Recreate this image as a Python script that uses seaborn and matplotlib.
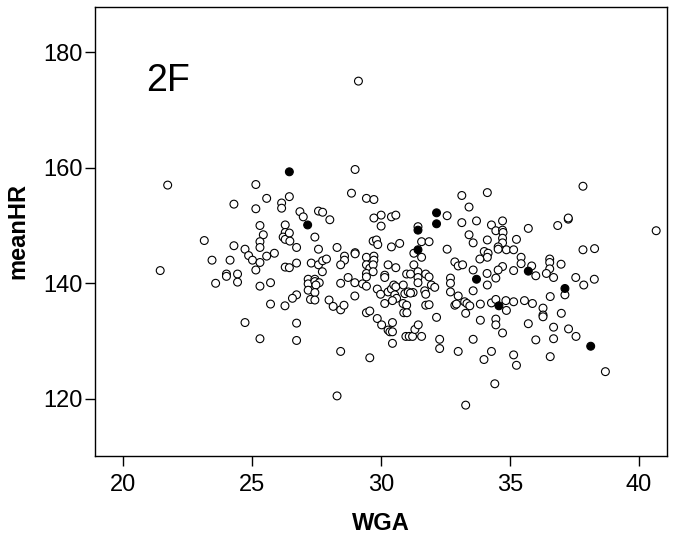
import pandas as pd
import matplotlib.pyplot as plt
import seaborn as sns

# open circles
wga_open = [
    21.72, 25.14, 25.56, 24.29, 25.14, 25.30, 25.43, 23.14, 25.30, 25.30, 24.29, 24.72, 24.86, 25.01,
    25.56, 25.86, 23.44, 24.14, 25.30, 21.43, 25.14, 24.00, 24.00, 24.43,
    23.58, 24.43, 25.30, 25.71, 25.71, 24.72, 25.30,
    28.99, 26.44, 26.14, 26.14, 28.85, 29.43, 29.72, 26.85, 26.98, 27.57, 27.73, 28.01, 30.00, 29.72,
    30.40, 30.57, 30.00, 26.28, 26.28, 26.20, 26.28, 26.44, 26.46, 27.43, 26.72, 27.57, 28.29, 29.69,
    29.82, 29.87, 30.40, 26.72, 27.29, 27.57, 27.73, 27.88, 28.58, 28.58, 28.43, 28.99, 28.99, 29.43,
    29.72, 29.72, 29.43, 29.56, 29.69, 30.27, 30.57, 26.28, 26.44, 29.43, 29.69, 30.14, 30.14, 28.72,
    27.17, 27.17, 27.43, 27.43, 27.60, 27.47, 27.72, 27.17, 27.43, 27.26, 27.43, 26.72, 26.56, 26.27,
    26.72, 26.72, 27.98, 28.14, 28.43, 28.56, 28.43, 28.98, 29.28, 29.43, 29.43, 28.98, 29.43, 29.56,
    29.85, 29.98, 30.14, 30.27, 30.40, 30.49, 30.57, 30.53, 30.60, 30.44, 29.85, 30.02, 30.27, 30.34,
    30.44, 30.44, 30.44, 28.43, 29.56, 28.29,
    33.13, 34.12, 33.41, 32.56, 33.13, 33.70, 34.71, 34.28, 34.45, 34.71, 34.73, 35.25, 31.43, 33.41,
    33.57, 31.57, 31.86, 30.72, 34.12, 34.71, 34.71, 34.54, 34.54, 34.86, 35.14, 34.00, 34.15, 34.12,
    33.83, 32.56, 31.27, 31.57, 32.86, 32.99, 33.16, 33.57, 34.11, 34.71, 34.54, 35.14, 31.27, 30.99,
    31.14, 31.43, 31.73, 31.43, 31.86, 32.69,
    31.43, 30.86, 30.92, 31.24, 31.05, 31.14, 30.85, 30.99, 30.88, 31.00, 31.69, 31.73, 31.73, 31.86,
    31.95, 32.08, 32.15, 32.69, 32.69, 32.99, 32.86, 32.92, 33.24, 33.33, 33.44, 33.28, 33.57, 33.85,
    33.85, 34.12, 34.45, 34.28, 34.45, 34.84, 34.86, 35.14, 34.45, 34.45, 34.71, 30.96, 31.09, 31.22,
    31.57, 31.31, 31.44, 32.27, 32.27, 32.99, 33.57, 34.28, 33.99, 35.14, 35.25, 34.41, 33.28,
    37.83, 37.26, 37.26, 36.85, 35.71, 40.67, 37.83, 38.28, 35.43, 35.43, 35.84, 36.54, 36.54, 36.54,
    36.98, 36.41, 36.69, 37.55, 38.27, 36.00,
    37.86, 37.13, 36.56, 35.56, 35.87, 36.28, 36.28, 36.28, 36.99, 35.71, 36.69, 37.27, 37.56, 36.69,
    36.00, 36.56, 38.70, 29.12,
]
hr_open = [
    157.0, 157.1, 154.7, 153.7, 152.9, 150.0, 148.4, 147.4, 147.2, 146.2, 146.5, 145.9, 144.8, 144.0,
    144.7, 145.2, 144.0, 144.0, 143.6, 142.2, 142.3, 141.6, 141.2, 141.6,
    140.0, 140.2, 139.5, 140.1, 136.4, 133.2, 130.4,
    159.7, 155.0, 153.9, 153.0, 155.6, 154.7, 154.5, 152.4, 151.5, 152.5, 152.3, 151.0, 151.8, 151.3,
    151.5, 151.8, 149.9, 150.1, 148.8, 148.0, 147.6, 148.7, 147.3, 148.0, 146.2, 145.9, 146.2, 147.3,
    147.5, 146.7, 146.3, 143.5, 143.5, 143.2, 143.9, 144.2, 144.7, 144.0, 143.2, 145.3, 145.1, 144.5,
    144.7, 144.0, 143.2, 142.6, 143.2, 143.2, 142.7, 142.8, 142.7, 141.7, 142.0, 141.4, 141.0, 141.0,
    140.7, 139.9, 140.7, 140.3, 140.1, 139.7, 142.0, 138.8, 138.4, 137.2, 137.1, 138.0, 137.4, 136.1,
    133.1, 130.1, 137.1, 136.0, 135.4, 136.2, 140.0, 140.1, 139.9, 141.1, 139.5, 137.8, 134.9, 135.2,
    139.0, 138.1, 136.5, 138.5, 139.0, 139.7, 139.4, 138.0, 137.4, 137.0, 133.9, 132.8, 131.9, 131.6,
    131.6, 133.2, 129.6, 128.2, 127.1, 120.5,
    155.2, 155.7, 153.2, 151.7, 150.5, 150.8, 150.8, 150.1, 149.1, 149.2, 148.8, 147.6, 149.8, 148.4,
    147.0, 147.2, 147.2, 146.9, 147.5, 147.8, 147.0, 146.3, 145.9, 145.8, 145.8, 145.5, 145.2, 144.5,
    144.2, 145.9, 145.2, 144.5, 143.7, 143.0, 143.2, 142.3, 141.7, 142.9, 142.3, 142.2, 143.2, 141.6,
    141.6, 142.0, 141.6, 141.0, 141.1, 140.9,
    140.1, 139.7, 138.2, 138.4, 138.5, 138.3, 136.5, 136.2, 134.9, 134.9, 138.7, 138.1, 136.2, 136.3,
    139.7, 139.3, 134.1, 140.0, 138.5, 137.8, 136.2, 136.4, 136.8, 136.5, 136.1, 134.8, 138.7, 136.4,
    133.6, 139.7, 140.9, 136.6, 137.2, 137.0, 135.3, 136.8, 133.8, 132.8, 131.4, 130.8, 130.8, 130.8,
    130.8, 132.0, 132.8, 130.3, 128.7, 128.2, 130.3, 128.2, 126.8, 127.6, 125.8, 122.6, 118.9,
    156.8, 151.1, 151.3, 150.0, 149.5, 149.1, 145.8, 146.0, 144.5, 143.4, 143.0, 144.2, 143.6, 142.5,
    143.3, 141.7, 141.0, 141.0, 140.7, 141.3,
    139.7, 138.0, 137.7, 137.0, 136.5, 135.7, 134.5, 134.2, 134.8, 133.0, 132.4, 132.1, 130.8, 130.4,
    130.2, 127.3, 124.7, 175.0,
]

# filled circles
wga_filled = [26.44, 27.15, 32.15, 32.15, 31.43, 31.43, 33.70, 34.57, 35.71, 37.13, 38.13]
hr_filled = [159.3, 150.1, 152.2, 150.3, 149.2, 145.8, 140.7, 136.1, 142.1, 139.1, 129.1]

data = pd.DataFrame({
    'WGA': wga_open + wga_filled,
    'meanHR': hr_open + hr_filled,
    'group': ['open'] * len(wga_open) + ['filled'] * len(wga_filled),
})

sns.set_style('ticks')
plt.rcParams['font.family'] = ['Liberation Sans', 'DejaVu Sans']
plt.rcParams['text.color'] = 'black'
plt.rcParams['axes.labelcolor'] = 'black'
plt.rcParams['xtick.color'] = 'black'
plt.rcParams['ytick.color'] = 'black'

fig = plt.figure(figsize=(6.76, 5.41), dpi=100)
ax = fig.add_axes([0.1405, 0.1577, 0.8462, 0.829])

sns.scatterplot(data=data, x='WGA', y='meanHR', hue='group',
                palette={'open': 'white', 'filled': 'black'},
                edgecolor='black', linewidth=0.8, s=32, legend=False, ax=ax)

ax.set_xlim(18.9, 41.09)
ax.set_ylim(110.15, 187.8)
ax.set_xticks([20, 25, 30, 35, 40])
ax.set_yticks([120, 140, 160, 180])
ax.tick_params(axis='both', labelsize=17, length=7, width=1, colors='black', direction='out')
ax.tick_params(axis='x', pad=6)
ax.tick_params(axis='y', pad=2)
for sp in ax.spines.values():
    sp.set_visible(True)
    sp.set_color('black')
    sp.set_linewidth(1)

ax.set_xlabel('WGA', fontsize=17, fontweight='bold', labelpad=12)
ax.set_ylabel('meanHR', fontsize=17, fontweight='bold', labelpad=10)
ax.text(0.09, 0.813, '2F', transform=ax.transAxes, fontsize=27, va='baseline', color='black')

fig.savefig('out.png', dpi=100)
